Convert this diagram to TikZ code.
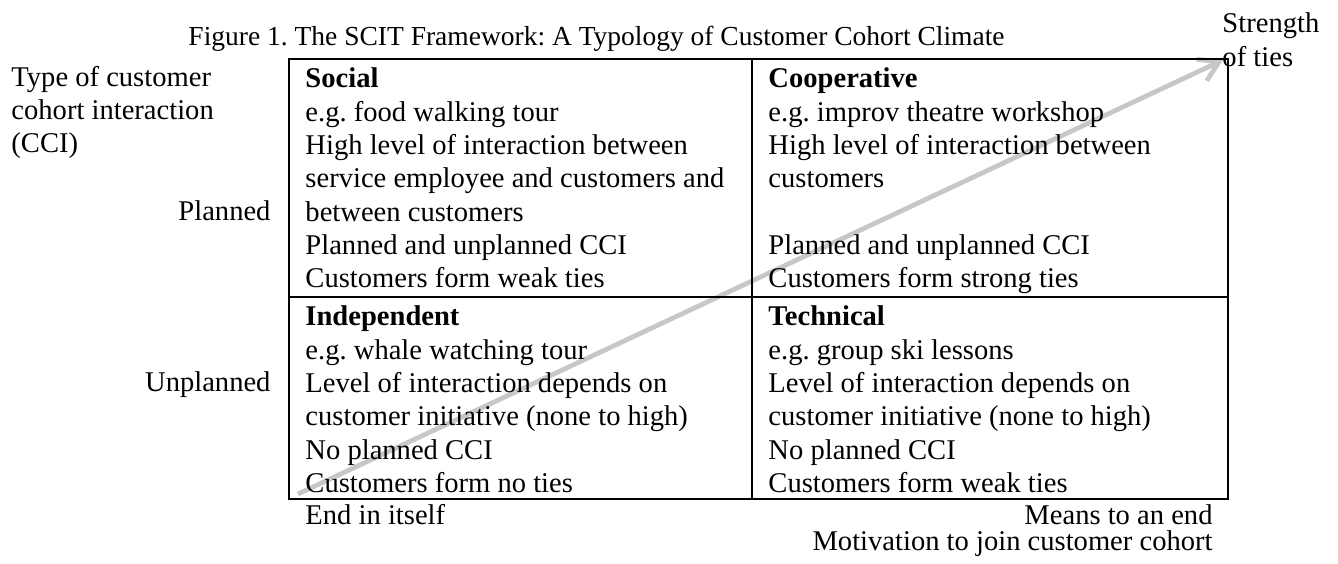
\documentclass[tikz,border=0pt]{standalone}
\usepackage{fontspec}
\setmainfont{Liberation Serif}
\usetikzlibrary{arrows.meta,positioning}
\tikzset{
		>=stealth
	}
\frenchspacing

\begin{document}
\begin{tikzpicture}[x=0.42pt,y=-0.42pt,
    txt/.style={inner sep=0pt,anchor=base west,font=\fontsize{12}{14}\selectfont},
    txtr/.style={txt,anchor=base east},
    frame/.style={line width=1.2pt},
    tiesarrow/.style={line width=2pt,black!22,-{Straight Barb[length=8pt,width=10pt]}}]
          \useasboundingbox (0,0) rectangle (1338,564);

          \coordinate (tail) at (298,494);
          \coordinate (head) at (1223,60);
          \draw[tiesarrow] (tail) -- (head);

          \draw[frame] (289,59) rectangle (1228,499);
          \draw[frame] (752,59) -- (752,499);
          \draw[frame] (289,297) -- (1228,297);

          \node[txt,font=\fontsize{11.55}{14}\selectfont] (title) at (188,46) {Figure 1. The SCIT Framework: A Typology of Customer Cohort Climate};
          \node[txt] (strength) at (1222,33) {Strength};
          \node[txt] (ties) at (1222,67) {of ties};

          \node[txt] (type1) at (11,87) {Type of customer};
          \node[txt] (type2) at (11,120) {cohort interaction};
          \node[txt] (type3) at (11,153) {(CCI)};
          \node[txtr] (planned) at (271,221) {Planned};
          \node[txtr] (unplanned) at (271,392) {Unplanned};

          \foreach \t [count=\i from 0] in {\textbf{Social},e.g. food walking tour,High level of interaction between,service employee and customers and,between customers,Planned and unplanned CCI,Customers form weak ties}
            \node[txt] (soc-\i) at (305,88+\i*33.3) {\t};
          \foreach \t [count=\i from 0] in {\textbf{Cooperative},e.g. improv theatre workshop,High level of interaction between,customers,{},Planned and unplanned CCI,Customers form strong ties}
            \node[txt] (coop-\i) at (768,88+\i*33.3) {\t};
          \foreach \t [count=\i from 0] in {\textbf{Independent},e.g. whale watching tour,Level of interaction depends on,customer initiative (none to high),No planned CCI,Customers form no ties}
            \node[txt] (ind-\i) at (305,326+\i*33.3) {\t};
          \foreach \t [count=\i from 0] in {\textbf{Technical},e.g. group ski lessons,Level of interaction depends on,customer initiative (none to high),No planned CCI,Customers form weak ties}
            \node[txt] (tech-\i) at (768,326+\i*33.3) {\t};

          \node[txt] (endself) at (305,525) {End in itself};
          \node[txtr] (means) at (1213,525) {Means to an end};
          \node[txtr] (motivation) at (1213,551) {Motivation to join customer cohort};

          \end{tikzpicture}
\end{document}
